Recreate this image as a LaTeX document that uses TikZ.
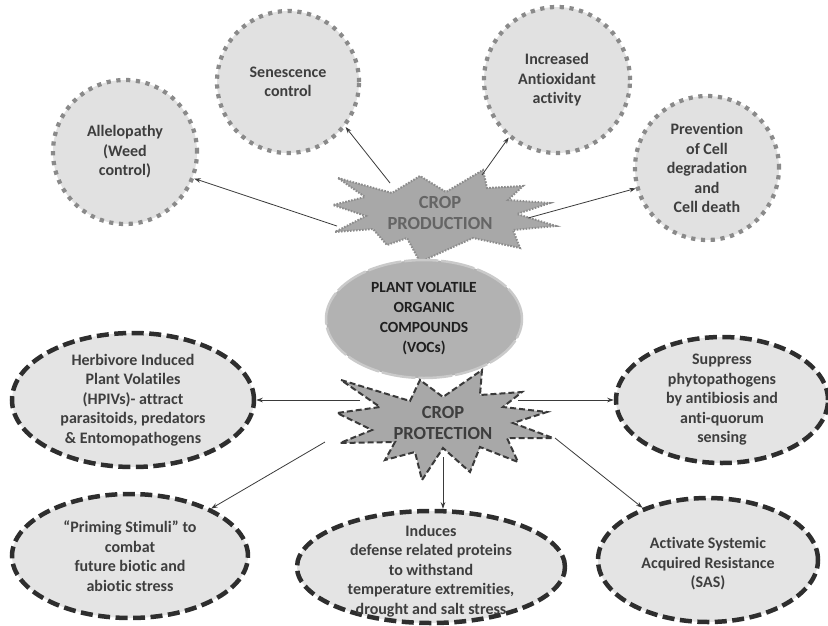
\documentclass[tikz,border=0pt]{standalone}
\usepackage{fontspec}
\setmainfont{Carlito}[Ligatures=NoCommon]
\usetikzlibrary{shapes.geometric,arrows.meta}

\definecolor{circfill}{HTML}{E1E1E1}
\definecolor{circdraw}{HTML}{8A8A8A}
\definecolor{ellfill}{HTML}{E4E4E4}
\definecolor{elldraw}{HTML}{2E2E2E}
\definecolor{starfill}{HTML}{A8A8A8}
\definecolor{prodline}{HTML}{8C8C8C}
\definecolor{protline}{HTML}{3A3A3A}
\definecolor{vocfill}{HTML}{B2B2B2}
\definecolor{vocline}{HTML}{CACACA}
\definecolor{txtgray}{HTML}{3E3E3E}
\definecolor{arrgray}{HTML}{3A3A3A}

\tikzset{
  bodytext/.style={font=\bfseries\fontsize{16}{19.5}\selectfont, text=txtgray, align=center, inner sep=0pt},
  dotcircle/.style={circle, inner sep=0pt, minimum size=#1, fill=circfill, draw=circdraw,
    line width=4.2pt, dash pattern=on 4.2pt off 5.6pt, bodytext},
  dashell/.style n args={2}{ellipse, inner sep=0pt, minimum width=#1, minimum height=#2,
    fill=ellfill, draw=elldraw, line width=4.5pt, dash pattern=on 12pt off 5.5pt},
  vocell/.style={ellipse, inner sep=0pt, minimum width=196pt, minimum height=118pt,
    fill=vocfill, draw=vocline, line width=2.5pt, dash pattern=on 34pt off 3pt},
  prodstar/.style={fill=starfill, draw=prodline, line width=2pt, dash pattern=on 1.6pt off 1.4pt},
  protstar/.style={fill=starfill, draw=protline, line width=2pt, dash pattern=on 6pt off 3pt},
  startext/.style={font=\bfseries\fontsize{18.5}{21}\selectfont, align=center, inner sep=0pt},
  arr/.style={draw=arrgray, line width=0.8pt, -{Stealth[length=6.5pt,width=4.5pt]}},
}

\begin{document}
\begin{tikzpicture}[x=1pt,y=-1pt]
\useasboundingbox (0,0) rectangle (828,625);

% ---------- crop production branch ----------
\node[dotcircle=144pt] (allelo) at (125,152) {Allelopathy\\(Weed\\control)};
\node[dotcircle=142pt] (senes) at (288,82) {Senescence\\control};
\node[dotcircle=146pt] (antiox) at (557,80) {Increased\\Antioxidant\\activity};
\node[dotcircle=144pt] (prevent) at (707,168) {Prevention\\of Cell\\degradation\\and\\Cell death};

\path[prodstar] (338,178) -- (392,193) -- (420,176) -- (446,192) -- (483,170)
  -- (487,188) -- (523,186) -- (508,200) -- (550,203) -- (517,214) -- (556,226)
  -- (513,230) -- (520,248) -- (473,238) -- (420,262) -- (407,238) -- (387,245)
  -- (373,229) -- (335,232) -- (366,216) -- (333,205) -- (365,197) -- cycle;
\node[startext, text=txtgray!80] (prod) at (440,213) {CROP\\PRODUCTION};

\coordinate (prodA) at (337,226);
\coordinate (prodB) at (390,183);
\coordinate (prodC) at (482,175);
\coordinate (prodD) at (528,218);

\draw[arr] (prodA) -- (allelo.-21);
\draw[arr] (prodB) -- (senes.-38);
\draw[arr] (prodC) -- (antiox.-130);
\draw[arr] (prodD) -- (prevent.196);

% ---------- central compounds ----------
\node[vocell] (voc) at (424,319) {};
\node[font=\bfseries\fontsize{15.5}{20}\selectfont, text=black!88, align=center, inner sep=0pt]
  (voctext) at (voc) {PLANT VOLATILE\\ORGANIC\\COMPOUNDS\\(VOCs)};

% ---------- crop protection branch ----------
\path[protstar] (341,380) -- (410,401) -- (420,380) -- (443,397) -- (482,370)
  -- (480,395) -- (522,392) -- (503,407) -- (547,412) -- (513,423) -- (553,438)
  -- (507,438) -- (518,462) -- (480,447) -- (470,472) -- (443,448) -- (422,480)
  -- (415,452) -- (385,460) -- (395,442) -- (340,443) -- (372,430) -- (337,413)
  -- (380,407) -- cycle;
\node[startext, text=txtgray] (prot) at (443,423) {CROP\\PROTECTION};

\node[dashell={242pt}{134pt}] (herb) at (133,400) {};
\node[bodytext] (herbtext) at (herb) {Herbivore Induced\\Plant Volatiles\\(HPIVs)- attract\\parasitoids, predators\\\& Entomopathogens};

\node[dashell={212pt}{126pt}] (supp) at (722,400) {};
\node[bodytext] (supptext) at (supp) {Suppress\\phytopathogens\\by antibiosis and\\anti-quorum\\sensing};

\node[dashell={236pt}{124pt}] (prim) at (130,556) {};
\node[bodytext] (primtext) at (prim) {“Priming Stimuli” to\\combat\\future biotic and\\abiotic stress};

\node[dashell={268pt}{112pt}] (induce) at (431,567) {};
\node[bodytext] (inducetext) at (431,571) {Induces\\defense related proteins\\to withstand\\temperature extremities,\\drought and salt stress};

\node[dashell={220pt}{124pt}] (activ) at (708,560) {};
\node[bodytext] (activtext) at (708,564) {Activate Systemic\\Acquired Resistance\\(SAS)};

\coordinate (protA) at (360,400);
\coordinate (protB) at (518,400);
\coordinate (protC) at (325,442);
\coordinate (protD) at (443,457);
\coordinate (protE) at (555,438);

\draw[arr] (protA) -- (herb.east);
\draw[arr] (protB) -- (supp.west);
\draw[arr] (protC) -- (prim);
\draw[arr] (protD) -- (protD |- induce.north);
\draw[arr] (protE) -- (activ);
\end{tikzpicture}
\end{document}
